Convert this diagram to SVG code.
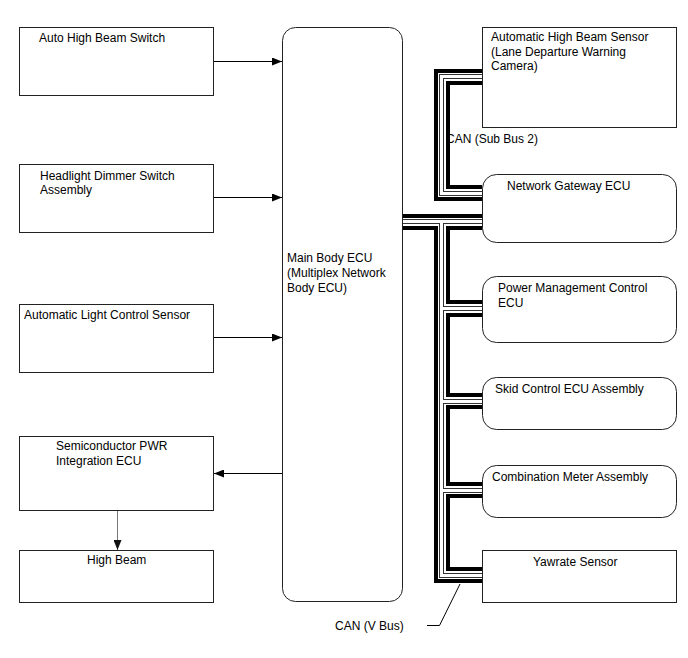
<svg xmlns="http://www.w3.org/2000/svg" width="688" height="658" viewBox="0 0 688 658">
<defs>
<marker id="ah" markerUnits="userSpaceOnUse" markerWidth="10" markerHeight="8" refX="10" refY="4" orient="auto">
<path d="M0,0 L10,4 L0,8 z" fill="#000"/>
</marker>
<marker id="ahg" markerUnits="userSpaceOnUse" markerWidth="10" markerHeight="8" refX="10" refY="4" orient="auto">
<path d="M0,0 L10,4 L0,8 z" fill="#111"/>
</marker>
<style>
.box{fill:#fff;stroke:#222;stroke-width:1}
.t{font-family:"Liberation Sans",Arial,sans-serif;font-size:12px;fill:#000}
.arr{stroke:#000;stroke-width:1;fill:none;marker-end:url(#ah)}
.blk{stroke:#000;stroke-width:4;fill:none;stroke-linejoin:miter;stroke-linecap:butt}
.hg{stroke:#333;stroke-width:5;fill:none;stroke-linejoin:miter;stroke-linecap:butt}
.hw{stroke:#fff;stroke-width:3;fill:none;stroke-linejoin:miter;stroke-linecap:butt}
</style>
</defs>
<rect width="688" height="658" fill="#fff"/>

<g id="connectors">
<path class="arr" d="M213.5,61.5 H282"/>
<path class="arr" d="M213.5,197.5 H282"/>
<path class="arr" d="M213.5,337.5 H282"/>
<path class="arr" d="M282.5,473.5 H214"/>
<path d="M117.5,510.5 V550" stroke="#777" stroke-width="1" fill="none" marker-end="url(#ahg)"/>

<g id="bus-hollow-outline">
<path class="hg" d="M482,76.5 H441.5 V193.5 H482"/>
<path class="hg" d="M402,221.5 H482"/>
<path class="hg" d="M441.5,221.5 V575.5 H482"/>
<path class="hg" d="M441.5,308.5 H482"/>
<path class="hg" d="M441.5,401.5 H482"/>
<path class="hg" d="M441.5,490.5 H482"/>
</g>
<g id="bus-hollow-fill">
<path class="hw" d="M482,76.5 H441.5 V193.5 H482"/>
<path class="hw" d="M402,221.5 H482"/>
<path class="hw" d="M441.5,221.5 V575.5 H482"/>
<path class="hw" d="M441.5,308.5 H482"/>
<path class="hw" d="M441.5,401.5 H482"/>
<path class="hw" d="M441.5,490.5 H482"/>
</g>
<g id="bus-black">
<path class="blk" d="M482,71 H436 V199 H482"/>
<path class="blk" d="M482,83 H448 V187 H482"/>
<path class="blk" d="M402,216 H482"/>
<path class="blk" d="M402,228 H436 V581 H482"/>
<path class="blk" d="M482,228 H448 V302 H482"/>
<path class="blk" d="M482,315 H448 V395 H482"/>
<path class="blk" d="M482,407 H448 V484 H482"/>
<path class="blk" d="M482,496 H448 V569 H482"/>
</g>
<path d="M427,625.5 H439.5 L460,584" stroke="#000" stroke-width="1" fill="none"/>
</g>

<g id="auto-high-beam-switch">
<rect class="box" x="19.5" y="27.5" width="194" height="68"/>
<text class="t" x="39" y="42">Auto High Beam Switch</text>
</g>
<g id="headlight-dimmer-switch">
<rect class="box" x="19.5" y="164.5" width="194" height="68"/>
<text class="t" x="40" y="180">Headlight Dimmer Switch</text>
<text class="t" x="40" y="194">Assembly</text>
</g>
<g id="automatic-light-control-sensor">
<rect class="box" x="19.5" y="304.5" width="194" height="68"/>
<text class="t" x="24" y="319">Automatic Light Control Sensor</text>
</g>
<g id="semiconductor-pwr">
<rect class="box" x="19.5" y="436.5" width="194" height="74"/>
<text class="t" x="56" y="450">Semiconductor PWR</text>
<text class="t" x="56" y="465">Integration ECU</text>
</g>
<g id="high-beam">
<rect class="box" x="19.5" y="550.5" width="194" height="52"/>
<text class="t" x="87" y="564">High Beam</text>
</g>

<g id="main-body-ecu">
<rect class="box" x="282.5" y="27.5" width="120" height="574" rx="13"/>
<text class="t" x="287" y="262">Main Body ECU</text>
<text class="t" x="287" y="277">(Multiplex Network</text>
<text class="t" x="287" y="292">Body ECU)</text>
</g>

<g id="auto-high-beam-sensor">
<rect class="box" x="482.5" y="27.5" width="194" height="100"/>
<text class="t" x="491" y="41">Automatic High Beam Sensor</text>
<text class="t" x="491" y="55.5">(Lane Departure Warning</text>
<text class="t" x="491" y="70">Camera)</text>
</g>
<text class="t" x="446" y="143">CAN (Sub Bus 2)</text>
<g id="network-gateway-ecu">
<rect class="box" x="482.5" y="174.5" width="194" height="68" rx="14"/>
<text class="t" x="507" y="190">Network Gateway ECU</text>
</g>
<g id="power-management-control-ecu">
<rect class="box" x="482.5" y="276.5" width="194" height="66" rx="14"/>
<text class="t" x="498" y="292">Power Management Control</text>
<text class="t" x="498" y="307">ECU</text>
</g>
<g id="skid-control-ecu">
<rect class="box" x="482.5" y="377.5" width="194" height="52" rx="14"/>
<text class="t" x="495" y="393">Skid Control ECU Assembly</text>
</g>
<g id="combination-meter">
<rect class="box" x="482.5" y="465.5" width="194" height="52" rx="14"/>
<text class="t" x="492" y="481">Combination Meter Assembly</text>
</g>
<g id="yawrate-sensor">
<rect class="box" x="482.5" y="550.5" width="194" height="52"/>
<text class="t" x="533" y="566">Yawrate Sensor</text>
</g>
<text class="t" x="335" y="630">CAN (V Bus)</text>
</svg>
